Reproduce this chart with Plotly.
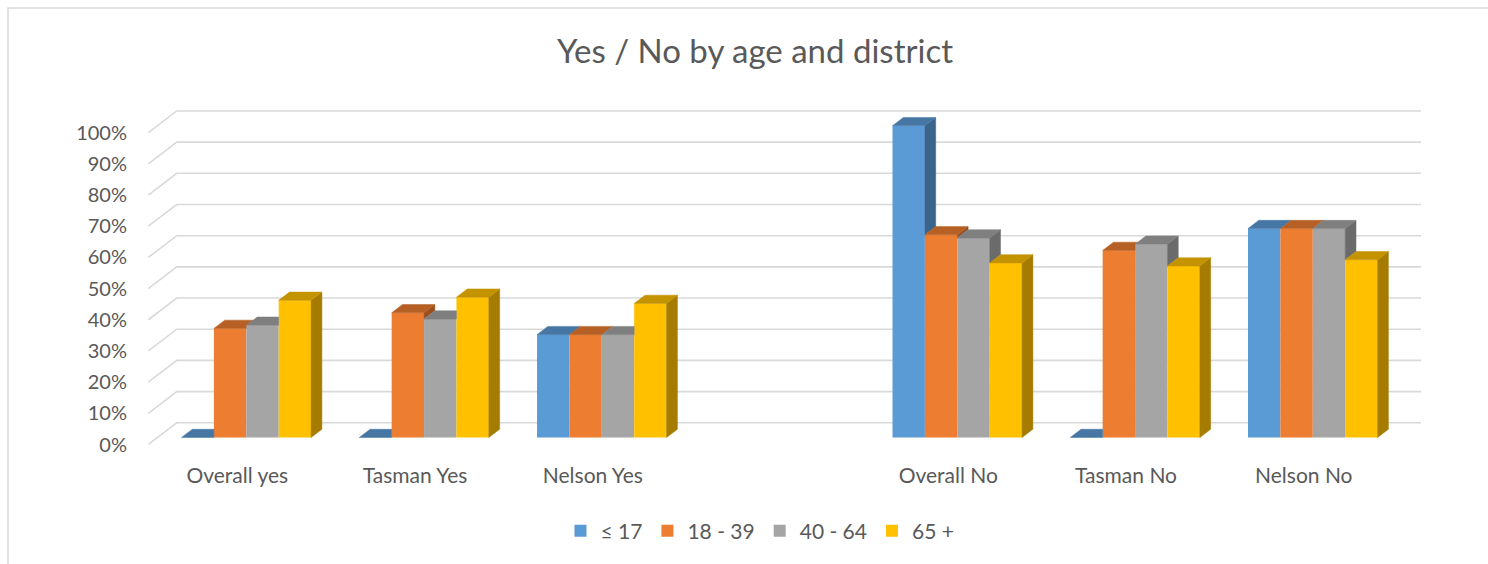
import plotly.graph_objects as go

# ---- data -------------------------------------------------------------
categories = ["Overall yes", "Tasman Yes", "Nelson Yes", "", "Overall No", "Tasman No", "Nelson No"]
age_groups = ["≤ 17", "18 - 39", "40 - 64", "65 +"]
under_18 = [0, 0, 33, None, 100, 0, 67]
age_18_39 = [35, 40, 33, None, 65, 60, 67]
age_40_64 = [36, 38, 33, None, 64, 62, 67]
age_65_plus = [44, 45, 43, None, 56, 55, 57]
y_ticks = [0, 10, 20, 30, 40, 50, 60, 70, 80, 90, 100]
y_tick_labels = [f"{t}%" for t in y_ticks]

series = [under_18, age_18_39, age_40_64, age_65_plus]

# ---- styling ----------------------------------------------------------
front_colors = ["#5B9BD5", "#ED7D31", "#A5A5A5", "#FFC000"]
TEXT = "#595959"
GRID = "#D9D9D9"
FONT = "Lato, 'Open Sans', sans-serif"


def shade(hex_color, factor):
    h = hex_color.lstrip("#")
    r, g, b = (int(h[i:i + 2], 16) for i in (0, 2, 4))
    return "#%02X%02X%02X" % (int(r * factor), int(g * factor), int(b * factor))


top_colors = [shade(c, 0.77) for c in front_colors]
side_colors = [shade(c, 0.65) for c in front_colors]

# ---- pseudo-3D geometry (in axis units) -------------------------------
W, H = 1488, 564
M_L, M_R, M_T, M_B = 33, 33, 107, 114
X_RANGE = [-1.2, 6.8]
Y_RANGE = [-4, 106]

GROUP_W = 0.729                  # width of a category's bar cluster
BAR_W = GROUP_W / len(series)
DEPTH_X = 0.160                  # oblique offset of the full floor depth
DEPTH_Y = 6.96
BAR_FRONT, BAR_BACK = 0.32, 0.70  # depth slice occupied by the bars
ddx = (BAR_BACK - BAR_FRONT) * DEPTH_X
ddy = (BAR_BACK - BAR_FRONT) * DEPTH_Y

n_cat = len(categories)
cat_pos = list(range(n_cat))

fig = go.Figure()

# front faces
for k, (name, vals, col) in enumerate(zip(age_groups, series, front_colors)):
    xs = [p for p, v in zip(cat_pos, vals) if v is not None]
    ys = [v for v in vals if v is not None]
    fig.add_trace(go.Bar(
        x=xs, y=ys, name=name,
        width=BAR_W, offset=-GROUP_W / 2 + k * BAR_W,
        marker=dict(color=col, line=dict(width=0)),
        hovertemplate="%{y}%<extra>" + name + "</extra>",
    ))

# top and side faces, clipped where the neighbouring bar hides them
for k in range(len(series)):
    top_x, top_y, side_x, side_y = [], [], [], []
    for p, v in zip(cat_pos, series[k]):
        if v is None:
            continue
        nxt = series[k + 1][p] if k + 1 < len(series) else None
        x0 = p - GROUP_W / 2 + k * BAR_W
        x1 = x0 + BAR_W

        pts = [(x0, v), (x1, v)]
        if nxt is None or nxt <= v:
            pts.append((x1 + ddx, v + ddy))
        else:
            m = min(nxt, v + ddy)
            pts += [(x1, m), (x1 + (v + ddy - m) / ddy * ddx, v + ddy)]
        pts.append((x0 + ddx, v + ddy))
        pts.append(pts[0])
        top_x += [q[0] for q in pts] + [None]
        top_y += [q[1] for q in pts] + [None]

        lower = 0 if nxt is None else nxt
        if lower < v:
            sp = [(x1, lower), (x1, v), (x1 + ddx, v + ddy), (x1 + ddx, lower + ddy), (x1, lower)]
            side_x += [q[0] for q in sp] + [None]
            side_y += [q[1] for q in sp] + [None]

    for xs, ys, col in ((side_x, side_y, side_colors[k]), (top_x, top_y, top_colors[k])):
        if xs:
            fig.add_trace(go.Scatter(
                x=xs, y=ys, mode="lines", fill="toself", fillcolor=col,
                line=dict(color=col, width=0.5), hoverinfo="skip", showlegend=False,
            ))

# back-wall gridlines with their diagonal floor-to-wall segment
x_front_left = -0.5 - BAR_FRONT * DEPTH_X
x_back_left = x_front_left + DEPTH_X
x_back_right = (n_cat - 0.5) + (1 - BAR_FRONT) * DEPTH_X
shapes = []
for t in y_ticks:
    yf = t - BAR_FRONT * DEPTH_Y
    yb = t + (1 - BAR_FRONT) * DEPTH_Y
    shapes.append(dict(
        type="path", xref="x", yref="y", layer="below",
        path=f"M {x_front_left} {yf} L {x_back_left} {yb} L {x_back_right} {yb}",
        line=dict(color=GRID, width=1.6),
    ))

# chart border
plot_w = W - M_L - M_R
plot_h = H - M_T - M_B
shapes.append(dict(
    type="rect", xref="paper", yref="paper", layer="below",
    x0=(8 - M_L) / plot_w, x1=(W + 20 - M_L) / plot_w,
    y0=(H - M_B - (H + 20)) / plot_h, y1=(H - M_B - 8) / plot_h,
    line=dict(color="#D9D9D9", width=1.5), fillcolor="rgba(0,0,0,0)",
))

fig.update_layout(
    width=W, height=H,
    margin=dict(l=M_L, r=M_R, t=M_T, b=M_B, pad=0),
    paper_bgcolor="white", plot_bgcolor="white",
    barmode="overlay",
    font=dict(family=FONT, color=TEXT, size=20),
    title=dict(
        text="Yes / No by age and district",
        font=dict(family=FONT, color=TEXT, size=33),
        x=755 / W, xref="container", xanchor="center",
        y=1 - 51 / H, yref="container", yanchor="middle",
    ),
    xaxis=dict(
        range=X_RANGE, showgrid=False, zeroline=False, showline=False,
        tickmode="array",
        tickvals=[p for p, c in zip(cat_pos, categories) if c],
        ticktext=[c for c in categories if c],
        ticks="", ticklabelshift=-9, ticklabelstandoff=11,
        tickfont=dict(family=FONT, color=TEXT, size=21),
        fixedrange=True,
    ),
    yaxis=dict(
        range=Y_RANGE, showgrid=False, zeroline=False, showline=False,
        tickmode="array", tickvals=y_ticks, ticktext=y_tick_labels,
        ticks="", ticklabelshift=7, ticklabelstandoff=-95,
        tickfont=dict(family=FONT, color=TEXT, size=20),
        fixedrange=True,
    ),
    legend=dict(
        orientation="h", x=(760 - M_L) / plot_w, xanchor="center",
        y=(H - M_B - 531) / plot_h, yanchor="middle",
        font=dict(family=FONT, color=TEXT, size=21),
        traceorder="normal", itemclick=False, itemdoubleclick=False,
    ),
    shapes=shapes,
    showlegend=True,
)

fig.write_html("out.html")
